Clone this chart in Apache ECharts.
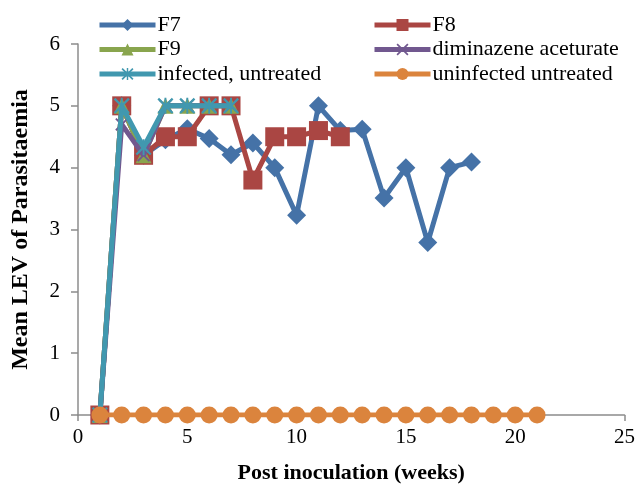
<!DOCTYPE html>
<html>
<head>
<meta charset="utf-8">
<script src="https://cdn.jsdelivr.net/npm/echarts@6/dist/echarts.min.js"></script>
<style>
  html, body { margin: 0; padding: 0; background: #fff; }
  #chart { width: 638px; height: 489px; }
</style>
</head>
<body>
<div id="chart"></div>
<script>
// Weekly mean LEV of parasitaemia per treatment group
const weeksF7 = [1, 2, 3, 4, 5, 6, 7, 8, 9, 10, 11, 12, 13, 14, 15, 16, 17, 18];
const valuesF7 = [0, 5, 4.2, 4.45, 4.63, 4.47, 4.21, 4.4, 4.0, 3.23, 5.0, 4.6, 4.62, 3.51, 4.0, 2.79, 4.0, 4.09];

const weeksF8 = [1, 2, 3, 4, 5, 6, 7, 8, 9, 10, 11, 12];
const valuesF8 = [0, 5, 4.2, 4.5, 4.5, 5, 5, 3.8, 4.5, 4.5, 4.6, 4.5];

const weeksShort = [1, 2, 3, 4, 5, 6, 7];
const valuesF9 = [0, 5, 4.2, 5, 5, 5, 5];
const valuesDiminazene = [0, 4.7, 4.2, 5, 5, 5, 5];
const valuesInfected = [0, 5, 4.33, 5, 5, 5, 5];

const weeksUninfected = [1, 2, 3, 4, 5, 6, 7, 8, 9, 10, 11, 12, 13, 14, 15, 16, 17, 18, 19, 20, 21];
const valuesUninfected = [0, 0, 0, 0, 0, 0, 0, 0, 0, 0, 0, 0, 0, 0, 0, 0, 0, 0, 0, 0, 0];

const seriesNames = ['F7', 'F8', 'F9', 'diminazene aceturate', 'infected, untreated', 'uninfected untreated'];
const colors = ['#4572A7', '#AA4643', '#89A54E', '#71588F', '#4198AF', '#DB843D'];

const pairs = (xs, ys) => xs.map((x, i) => [x, ys[i]]);

// Filled outlines for the cross and asterisk markers
const crossPath = 'path://M0,1 L1,0 L5,4 L9,0 L10,1 L6,5 L10,9 L9,10 L5,6 L1,10 L0,9 L4,5 Z';
const starPath = 'path://M0,1 L1,0 L5,4 L9,0 L10,1 L6,5 L10,9 L9,10 L5,6 L1,10 L0,9 L4,5 Z M4.4,0 L5.6,0 L5.6,10 L4.4,10 Z';

const serif = '"Liberation Serif", "Times New Roman", serif';

function lineSeries(idx, data, symbol, size) {
  return {
    name: seriesNames[idx],
    type: 'line',
    data: data,
    symbol: symbol,
    symbolSize: size,
    showAllSymbol: true,
    lineStyle: { width: 5, color: colors[idx] },
    itemStyle: { color: colors[idx] },
    emphasis: { disabled: true },
    z: 2 + idx
  };
}

function legendColumn(names, left) {
  return {
    data: names,
    orient: 'vertical',
    left: left,
    top: 9,
    itemWidth: 56,
    itemHeight: 15,
    itemGap: 2.5,
    lineStyle: { width: 5 },
    textStyle: { fontFamily: serif, fontSize: 22, color: '#000', padding: [0, 0, 0, -3] }
  };
}

const chart = echarts.init(document.getElementById('chart'), null, { renderer: 'canvas' });

chart.setOption({
  animation: false,
  color: colors,
  grid: { left: 78, right: 11, top: 44, bottom: 74, containLabel: false },
  legend: [
    legendColumn(['F7', 'F9', 'infected, untreated'], 92),
    legendColumn(['F8', 'diminazene aceturate', 'uninfected untreated'], 367)
  ],
  xAxis: {
    type: 'value',
    min: 0,
    max: 25,
    interval: 5,
    name: 'Post inoculation (weeks)',
    nameLocation: 'middle',
    nameGap: 47,
    nameTextStyle: { fontFamily: serif, fontSize: 22, fontWeight: 'bold', color: '#000' },
    axisLine: { show: true, lineStyle: { color: '#8c8c8c', width: 1.5 } },
    axisTick: { show: true, inside: false, length: 6, lineStyle: { color: '#8c8c8c', width: 1.5 } },
    axisLabel: { fontFamily: serif, fontSize: 21, color: '#000', margin: 12 },
    splitLine: { show: false }
  },
  yAxis: {
    type: 'value',
    min: 0,
    max: 6,
    interval: 1,
    name: 'Mean LEV of Parasitaemia',
    nameLocation: 'middle',
    nameGap: 45,
    nameTextStyle: { fontFamily: serif, fontSize: 24, fontWeight: 'bold', color: '#000' },
    axisLine: { show: true, lineStyle: { color: '#8c8c8c', width: 1.5 } },
    axisTick: { show: true, inside: false, length: 7, lineStyle: { color: '#8c8c8c', width: 1.5 } },
    axisLabel: { fontFamily: serif, fontSize: 21, color: '#000', margin: 18 },
    splitLine: { show: false }
  },
  series: [
    lineSeries(0, pairs(weeksF7, valuesF7), 'diamond', 19),
    lineSeries(1, pairs(weeksF8, valuesF8), 'rect', 19),
    lineSeries(2, pairs(weeksShort, valuesF9), 'triangle', 16),
    lineSeries(3, pairs(weeksShort, valuesDiminazene), crossPath, 13),
    lineSeries(4, pairs(weeksShort, valuesInfected), starPath, 16),
    lineSeries(5, pairs(weeksUninfected, valuesUninfected), 'circle', 17)
  ]
});
</script>
</body>
</html>
